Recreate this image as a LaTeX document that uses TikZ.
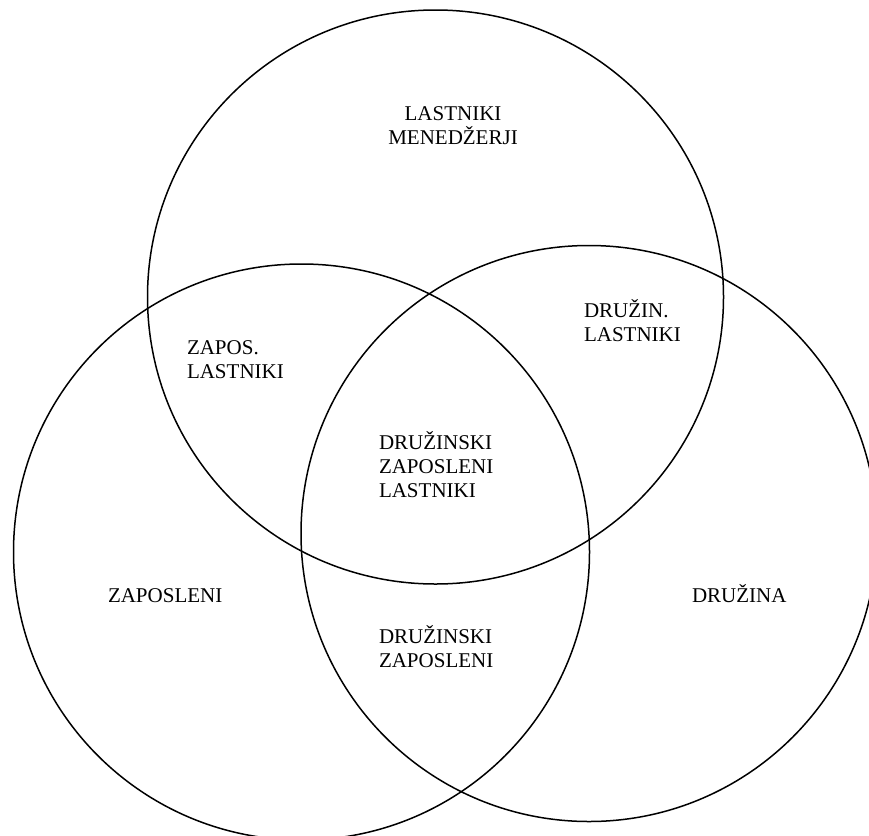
\documentclass[tikz,border=0pt]{standalone}
\usepackage{fontspec}
\setmainfont{Liberation Serif}
\newcommand{\leftlines}[1]{\vtop{\halign{##\hfil\cr #1\crcr}}}
\newcommand{\centerlines}[1]{\vtop{\halign{\hfil##\hfil\cr #1\crcr}}}
\begin{document}
\begin{tikzpicture}[x=1pt,y=-1pt,
  ring/.style={draw=black, line width=1.5pt},
  lbl/.style={inner sep=0pt, outer sep=0pt, anchor=base west, font=\fontsize{21}{24}\selectfont},
  lblc/.style={lbl, anchor=base}
]
\useasboundingbox (0,0) rectangle (869,835);
\begin{scope}
\clip (0,0) rectangle (869,835);
\draw[ring] (435.5,297) ellipse [x radius=288pt, y radius=287pt];
\draw[ring] (301.5,552) circle [radius=288pt];
\draw[ring] (589,533.5) circle [radius=288pt];
\end{scope}
\node[lblc] (owners) at (453,120) {\centerlines{LASTNIKI\cr MENEDŽERJI}};
\node[lbl] (famown) at (584,317) {\leftlines{DRUŽIN.\cr LASTNIKI}};
\node[lbl] (empown) at (187,354) {\leftlines{ZAPOS.\cr LASTNIKI}};
\node[lbl] (all) at (379,449) {\leftlines{DRUŽINSKI\cr ZAPOSLENI\cr LASTNIKI}};
\node[lbl] (famemp) at (379,643) {\leftlines{DRUŽINSKI\cr ZAPOSLENI}};
\node[lbl] (emp) at (108,602) {ZAPOSLENI};
\node[lbl] (fam) at (692,602) {DRUŽINA};
\end{tikzpicture}
\end{document}
